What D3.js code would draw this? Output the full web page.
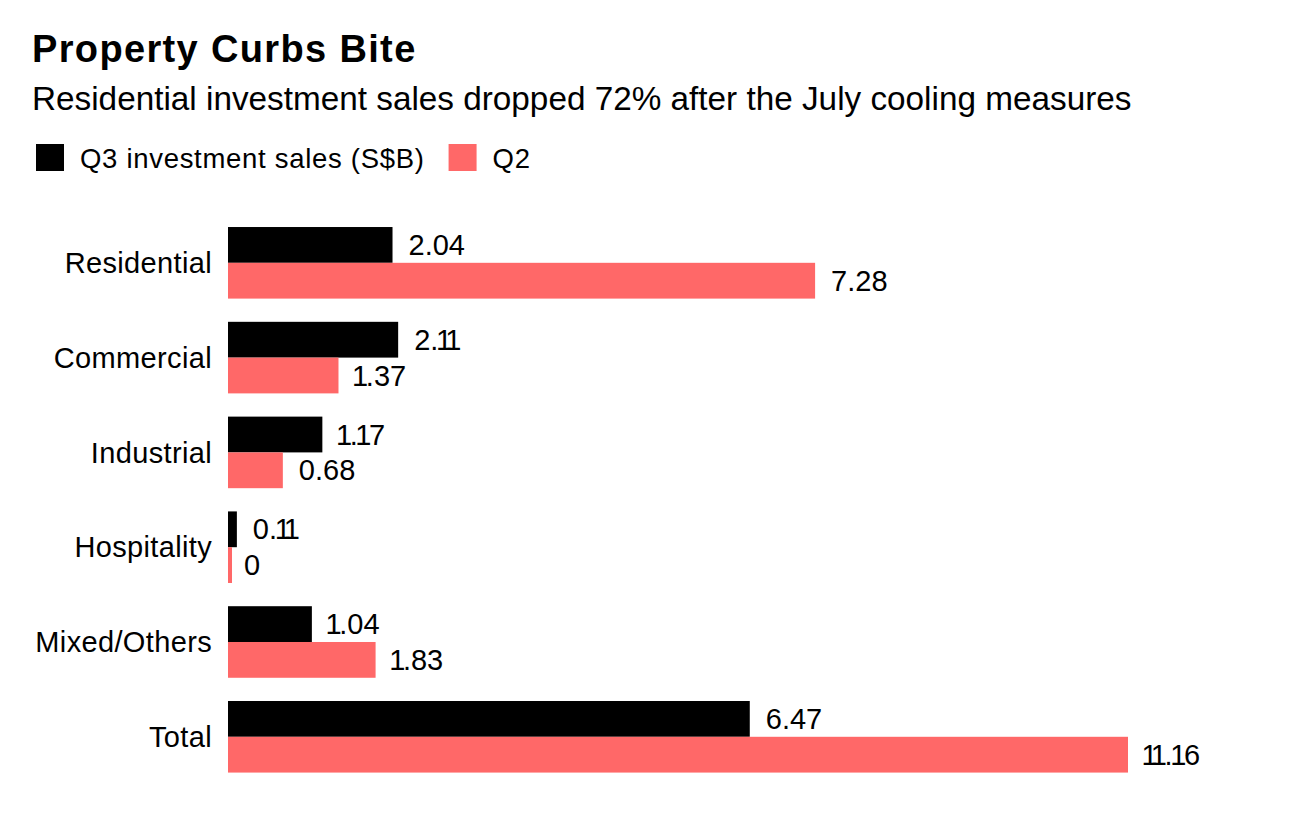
<!DOCTYPE html>
<html><head><meta charset="utf-8">
<script src="https://cdn.jsdelivr.net/npm/d3@7"></script>
<style>
body{margin:0;background:#fff;}
svg text{font-family:"Liberation Sans",Arial,Helvetica,sans-serif;fill:#000;}
</style></head>
<body><svg id="c" width="1316" height="838"></svg>
<script>
const categories = ["Residential","Commercial","Industrial","Hospitality","Mixed/Others","Total"];
const seriesNames = ["Q3 investment sales (S$B)","Q2"];
const q3Values = [2.04,2.11,1.17,0.11,1.04,6.47];
const q2Values = [7.28,1.37,0.68,0,1.83,11.16];
const colors = ["#000000","#ff6868"];

const svg = d3.select("#c");
svg.append("rect").attr("width",1316).attr("height",838).attr("fill","#fff");

svg.append("text").attr("x",32).attr("y",62).attr("font-size",38).attr("font-weight","bold")
  .attr("letter-spacing",1.35).text("Property Curbs Bite");
svg.append("text").attr("x",32).attr("y",110).attr("font-size",33.3)
  .text("Residential investment sales dropped 72% after the July cooling measures");

// legend
const leg = svg.append("g");
let lx = 36;
seriesNames.forEach((n,i)=>{
  leg.append("rect").attr("x",lx).attr("y",144).attr("width",28).attr("height",27).attr("fill",colors[i]);
  const t = leg.append("text").attr("x",lx+44).attr("y",168).attr("font-size",27.5)
    .attr("letter-spacing",0.7).text(n);
  lx = lx + 44 + t.node().getComputedTextLength() + 24;
});

const data = categories.map((c,i)=>({cat:c, vals:[q3Values[i], q2Values[i]]}));

const x = d3.scaleLinear().domain([0,11.16]).range([228,1128]);
const y = d3.scaleBand().domain(categories).range([203.8,795.8]).paddingInner(0.245).paddingOuter(0.245);
const ys = d3.scaleBand().domain([0,1]).range([0,y.bandwidth()]);

const g = svg.selectAll("g.grp").data(data).join("g").attr("class","grp")
  .attr("transform",d=>`translate(0,${y(d.cat)})`);

g.append("text").attr("x",212).attr("y",y.bandwidth()/2).attr("dy","0.35em")
  .attr("text-anchor","end").attr("font-size",29).attr("letter-spacing",0.35).text(d=>d.cat);

g.selectAll("rect").data(d=>d.vals).join("rect")
  .attr("x",x(0)).attr("y",(v,i)=>ys(i)).attr("height",ys.bandwidth())
  .attr("width",v=>Math.max(4,x(v)-x(0))).attr("fill",(v,i)=>colors[i]);

// narrow "1" glyphs, as in the reference typeface
function dxList(s){
  return s.split("").map((c,i)=>(c==="1"?-2.4:0)+(i>0&&s[i-1]==="1"?-2.4:0)).join(" ");
}
g.selectAll("text.val").data(d=>d.vals).join("text").attr("class","val")
  .attr("x",v=>x(v)+16).attr("y",(v,i)=>ys(i)+ys.bandwidth()/2).attr("dy","0.35em")
  .attr("font-size",29).attr("dx",v=>dxList(String(v))).text(v=>String(v));
</script></body></html>
